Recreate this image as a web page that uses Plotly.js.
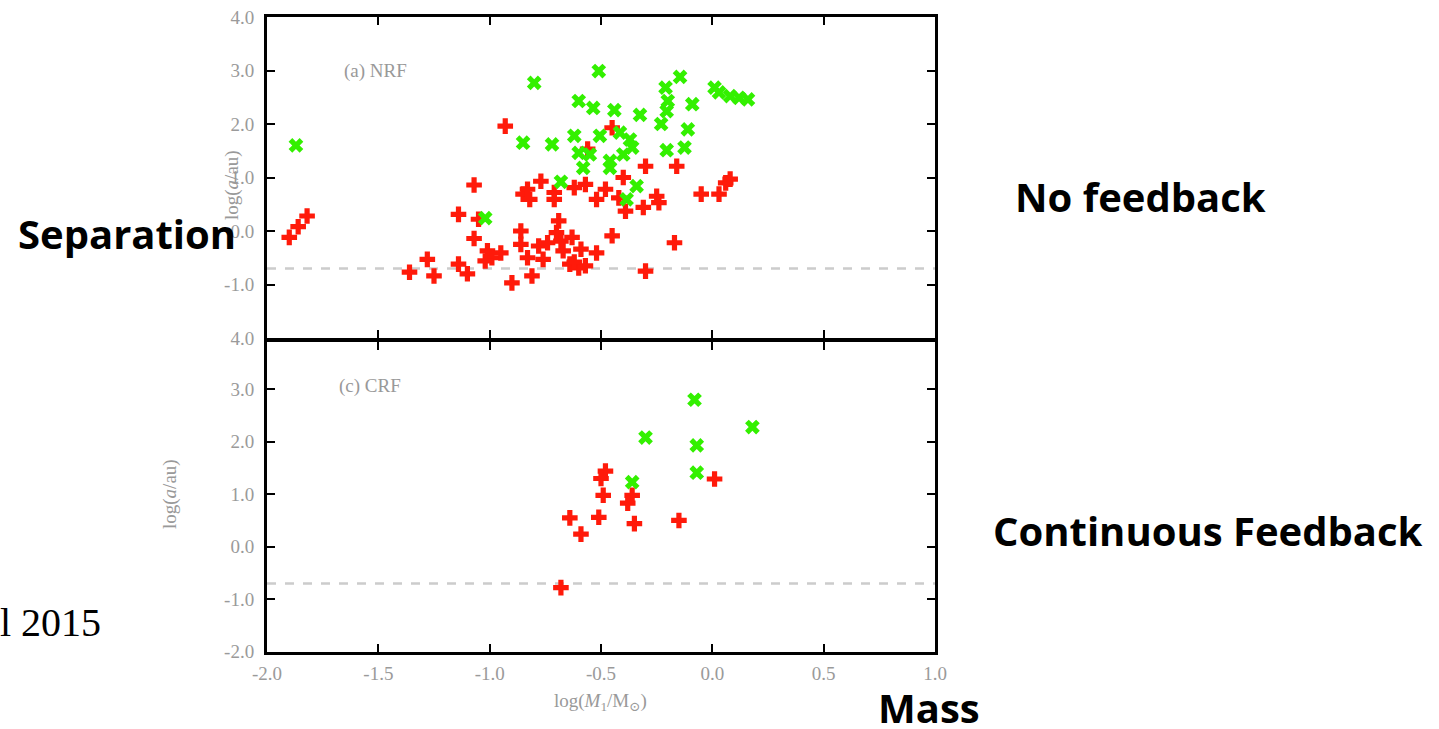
<!DOCTYPE html>
<html>
<head>
<meta charset="utf-8">
<script src="https://cdn.plot.ly/plotly-3.0.1.min.js"></script>
<style>html,body{margin:0;padding:0;background:#fff;}#chart{width:1439px;height:729px;}</style>
</head>
<body>
<div id="chart"></div>
<script>
// ---- Data: panel (a) NRF ----
const nrfRedX = [-1.90,-1.86,-1.82,-1.07,-1.14,-1.05,-1.07,-1.28,-1.36,-1.25,-1.14,-1.10,-1.01,-0.99,-0.95,-1.02,
  -0.86,-0.86,-0.83,-0.81,-0.90,-0.78,-0.76,-0.74,-0.69,-0.70,-0.68,-0.67,-0.63,-0.64,-0.60,-0.59,-0.57,-0.62,-0.52,-0.45,
  -0.30,-0.17,-0.85,-0.82,-0.83,-0.77,-0.71,-0.71,-0.62,-0.57,-0.52,-0.48,-0.40,-0.42,-0.39,-0.31,-0.25,-0.24,-0.30,-0.16,
  -0.05,0.03,0.06,0.08,-0.93,-0.45,-0.56];
const nrfRedY = [-0.12,0.08,0.28,0.86,0.31,0.22,-0.14,-0.53,-0.77,-0.84,-0.62,-0.80,-0.37,-0.50,-0.41,-0.56,
  0.00,-0.25,-0.50,-0.84,-0.97,-0.28,-0.53,-0.22,0.19,-0.03,-0.19,-0.37,-0.12,-0.62,-0.69,-0.34,-0.65,-0.58,-0.41,-0.09,
  -0.75,-0.22,0.69,0.59,0.78,0.93,0.72,0.59,0.81,0.87,0.59,0.78,1.00,0.62,0.37,0.44,0.65,0.53,1.21,1.21,
  0.69,0.69,0.90,0.97,1.96,1.93,1.53];
const nrfGreenX = [-1.87,-1.02,-0.68,-0.58,-0.46,-0.34,-0.385,-0.80,-0.51,-0.145,-0.21,0.01,0.03,0.08,0.12,0.16,
  -0.60,-0.535,-0.44,-0.325,-0.20,-0.205,-0.23,-0.09,-0.11,-0.125,-0.205,-0.85,-0.72,-0.62,-0.505,-0.415,-0.37,-0.36,
  -0.60,-0.55,-0.40,-0.46];
const nrfGreenY = [1.60,0.24,0.92,1.18,1.18,0.84,0.59,2.77,2.99,2.88,2.68,2.68,2.59,2.52,2.49,2.46,
  2.43,2.30,2.26,2.17,2.43,2.24,2.00,2.37,1.90,1.56,1.51,1.65,1.62,1.78,1.78,1.84,1.71,1.56,
  1.46,1.43,1.43,1.31];
// ---- Data: panel (c) CRF ----
const crfRedX = [0.01,-0.48,-0.50,-0.49,-0.36,-0.38,-0.64,-0.51,-0.59,-0.35,-0.15,-0.68];
const crfRedY = [1.29,1.44,1.30,0.98,0.98,0.83,0.55,0.56,0.24,0.44,0.50,-0.78];
const crfGreenX = [-0.08,0.18,-0.30,-0.07,-0.07,-0.36];
const crfGreenY = [2.80,2.28,2.08,1.93,1.41,1.23];
// reference separation line
const limitX = [-2, 1];
const limitY = [-0.7, -0.7];
// ---- Tick labels ----
const xTickVals = [-2.0,-1.5,-1.0,-0.5,0.0,0.5,1.0];
const xTickText = ["-2.0","-1.5","-1.0","-0.5","0.0","0.5","1.0"];
const yTopTickVals = [-2,-1,0,1,2,3,4];
const yTopTickText = ["4.0","-1.0","0.0","1.0","2.0","3.0","4.0"];
const yBotTickVals = [-2,-1,0,1,2,3];
const yBotTickText = ["-2.0","-1.0","0.0","1.0","2.0","3.0"];

const W = 1439, H = 729;
const px = v => v / W, py = v => 1 - v / H;

const RED = '#ff1a0a', GREEN = '#33f000';
const redMarker = {symbol:'cross', size:13, color:RED, line:{width:0}};
const greenMarker = {symbol:'x', size:13, color:GREEN, line:{width:0}};
const dashLine = {color:'#cccccc', width:2.5, dash:'dash'};

const traces = [
  {x:limitX, y:limitY, xaxis:'x', yaxis:'y', mode:'lines', line:dashLine, hoverinfo:'skip'},
  {x:nrfRedX, y:nrfRedY, xaxis:'x', yaxis:'y', mode:'markers', marker:redMarker},
  {x:nrfGreenX, y:nrfGreenY, xaxis:'x', yaxis:'y', mode:'markers', marker:greenMarker},
  {x:limitX, y:limitY, xaxis:'x2', yaxis:'y2', mode:'lines', line:dashLine, hoverinfo:'skip'},
  {x:crfRedX, y:crfRedY, xaxis:'x2', yaxis:'y2', mode:'markers', marker:redMarker},
  {x:crfGreenX, y:crfGreenY, xaxis:'x2', yaxis:'y2', mode:'markers', marker:greenMarker}
];

const serif = '"Liberation Serif", "DejaVu Serif", serif';
const tickFont = {family:serif, size:19, color:'#9a9a9a'};
const axBase = {showline:true, linecolor:'#000', linewidth:3, mirror:'ticks', ticks:'inside',
  ticklen:8, tickwidth:2, tickcolor:'#000', showgrid:false, zeroline:false, tickfont:tickFont};

const xDom = [px(267), px(935)];
function ann(text, x, y, font, extra) {
  return Object.assign({text, xref:'paper', yref:'paper', x:px(x), y:py(y), xanchor:'center', yanchor:'middle', showarrow:false, font}, extra || {});
}
const grayFont = {family:serif, size:19, color:'#999'};
const bigFont = {family:'"Open Sans", sans-serif', size:40, color:'#000', weight:700};

const layout = {
  width:W, height:H, margin:{l:0,r:0,t:0,b:0}, showlegend:false,
  paper_bgcolor:'#fff', plot_bgcolor:'#fff',
  xaxis: Object.assign({}, axBase, {domain:xDom, range:[-2,1], anchor:'y', tickvals:xTickVals, showticklabels:false}),
  yaxis: Object.assign({}, axBase, {domain:[py(338), py(17)], range:[-2,4], anchor:'x', tickvals:yTopTickVals, ticktext:yTopTickText, ticklabelstandoff:6}),
  xaxis2: Object.assign({}, axBase, {domain:xDom, range:[-2,1], anchor:'y2', tickvals:xTickVals, ticktext:xTickText, ticklabelstandoff:2}),
  yaxis2: Object.assign({}, axBase, {domain:[py(651.7), py(342)], range:[-2,3.9], anchor:'x2', tickvals:yBotTickVals, ticktext:yBotTickText, ticklabelstandoff:6}),
  annotations: [
    ann('(a) NRF', 375, 71, grayFont),
    ann('(c) CRF', 370, 386, grayFont),
    ann('log(<i>a</i>/au)', 232, 185, grayFont, {textangle:-90}),
    ann('log(<i>a</i>/au)', 170, 494, grayFont, {textangle:-90}),
    ann('log(<i>M</i><sub>1</sub>/M<sub>⊙</sub>)', 600, 702, grayFont),
    ann('Separation', 16, 233, bigFont, {xanchor:'left'}),
    ann('No feedback', 1013, 197, bigFont, {xanchor:'left'}),
    ann('Continuous Feedback', 991, 530, bigFont, {xanchor:'left'}),
    ann('Mass', 876, 707, bigFont, {xanchor:'left'}),
    ann('l 2015', -2, 622, {family:serif, size:40, color:'#000'}, {xanchor:'left'})
  ]
};

Plotly.newPlot('chart', traces, layout, {staticPlot:true, displayModeBar:false});
</script>
</body>
</html>
